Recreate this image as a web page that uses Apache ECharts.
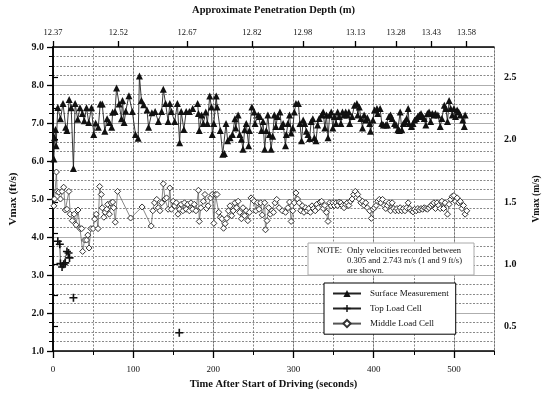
<!DOCTYPE html>
<html><head><meta charset="utf-8">
<script src="https://cdn.jsdelivr.net/npm/echarts@6/dist/echarts.min.js"></script>
<style>html,body{margin:0;padding:0;background:#fff}#c{width:550px;height:395px}</style>
</head><body><div id="c"></div>
<script>
// ---- data ----
const depthTimes  = [0, 81.5, 167.3, 248, 311.5, 377.5, 427.7, 471.9, 515.7];
const depthLabels = ['12.37','12.52','12.67','12.82','12.98','13.13','13.28','13.43','13.58'];
const msTickLabels = [0.5, 1.0, 1.5, 2.0, 2.5];
const msTicks = [0.5, 0.75, 1.0, 1.25, 1.5, 1.75, 2.0, 2.25, 2.5];
const seriesNames = ['Surface Measurement', 'Top Load Cell', 'Middle Load Cell'];

const surfacePoints = [
[1.1,6.05],[1.9,6.61],[3.1,6.83],[3.9,6.4],[6,7.41],[9.3,7.11],[12.5,7.51],[15.8,6.89],[17.4,6.8],[20.2,7.62],
[22.7,7.4],[25.5,5.8],[27.6,7.51],[30.8,7.1],[33.7,7.4],[36.6,7.25],[39,7.06],[41.8,7.4],[44.6,7.01],[48,7.4],
[50.8,6.7],[53.2,7.0],[56.5,6.89],[58.9,7.5],[61.4,7.5],[64.6,6.78],[67.5,7.11],[70.3,7.01],[73.2,6.89],[74.4,7.28],
[77.3,7.3],[79.3,7.92],[82.5,7.5],[85.4,7.11],[86.7,7.59],[88.7,7.01],[90.7,7.31],[94.7,7.72],[98.9,7.3],[102.9,6.7],
[106.2,6.6],[107.8,8.24],[110.3,7.59],[113.1,7.48],[117.2,7.34],[119.2,6.89],[123.3,7.27],[127.4,7.3],[131.4,7.04],[135.5,7.3],
[137.6,7.89],[140.4,7.51],[143.6,7.04],[145.7,7.51],[147.7,7.3],[151.8,7.04],[155.1,7.51],[157.9,6.48],[159.9,7.3],[163.2,6.83],
[166.1,7.3],[170.1,7.3],[174.2,7.38],
[180.4,7.51],[181.4,7.25],[182.4,6.8],[185.4,7.21],[187.5,6.99],[190.5,7.29],[192.5,6.99],[195.5,7.71],[197.6,7.42],[198.6,6.7],
[200.6,6.99],[203.6,7.71],[204.6,7.42],[208.7,6.8],[211.7,6.18],[213.7,6.2],[215.8,6.99],[217.8,6.53],[220.8,6.61],[223.8,6.7],
[226.9,7.11],[227.9,6.87],[230.9,7.21],[232.9,6.7],[235,6.57],[237,6.31],[239,6.82],[241,6.99],[244,6.4],[245,6.8],
[248,7.42],[251,7.29],[252,6.99],[256,7.21],[258,7.17],[260,6.8],[262,7.04],[264,6.31],[266,6.8],[268,7.21],
[270,6.7],[272,6.31],[274,6.65],[276,7.21],[278,6.91],[280,7.17],[283,7.29],[285,6.91],[287,6.99],[290,6.4],
[291,6.7],[293,6.99],[295,7.21],[297,6.74],[299,6.87],[301,7.29],[303,7.51],[306,7.51],[308,6.99],[310,6.53],
[312,7.08],[314,6.99],[316,6.78],[318,6.7],[320,6.59],[322,7.04],[324,7.11],[326,6.61],[328,6.53],[330,6.95],
[332,7.12],[335,7.21],[337,7.29],[339,6.87],[341,7.21],[343,6.61],[345,7.21],[347,7.29],[349,6.87],[351,7.17],
[353,6.99],[355,7.29],[357,7.17],[359,6.99],[361,7.29],[363,7.21],[365,7.29],[367,7.21],
[369,7.29],[370,6.99],[373,7.17],[376,7.47],[379,7.51],[380,7.21],[382,7.42],[384,7.12],[386,6.87],[388,7.21],
[390,7.08],[392,7.14],[395,6.99],[396,6.78],[399,7.08],[401,7.34],[404,7.38],[405,7.25],[408,7.38],[410,6.99],
[412,6.95],[415,6.95],[417,6.95],[419,7.17],[421,7.21],[423,7.12],[426,6.99],[428,6.95],[430,6.82],[432,6.8],
[433,7.29],[435,6.82],[437,6.99],[439,7.04],[441,7.12],[443,7.38],[444,6.99],[447,6.91],[449,6.99],[451,7.08],
[453,7.12],[455,7.17],[457,7.21],[459,7.25],[461,7.17],[463,7.12],[465,6.95],[467,7.25],[469,7.29],[471,7.04],
[473,7.25],[475,7.21],[477,7.25],[480,7.21],[483,6.91],[485,7.12],[488,7.47],[490,7.38],[492,7.04],[494,7.59],
[496,7.38],[498,7.21],[500,7.38],[502,7.17],[504,7.34],[506,7.29],[508,7.21],[511,7.08],[513,6.91],[514,7.21]
];

const topLoadPoints = [
[6,3.89],[8.5,3.81],[9.3,3.3],[11.3,3.21],[13.3,3.28],[15.3,3.32],[17.4,3.62],[19.4,3.58],[20.6,3.45],
[23,null],[25.5,2.4],[90,null],[157.5,1.48]
];

const middlePoints = [
[1.1,4.82],[1.9,5.0],[4.3,5.71],[5.1,5.2],[7.2,5.18],[9.3,5.0],[11.3,5.2],[13.3,5.31],[15.3,4.71],[17.4,4.73],
[19.8,5.2],[21.5,4.6],[24,4.43],[26.4,4.6],[28.8,4.32],[31.2,4.71],[33.7,4.22],[35.8,4.22],[37,3.62],[39.4,3.92],
[41.8,3.92],[43.4,4.05],[45,3.71],[47.2,4.22],[50,4.22],[52,4.47],[54,4.6],[56.2,4.22],[58.2,5.33],[60.2,5.12],
[61.4,4.77],[63.4,4.52],[65.1,4.65],[67.1,4.73],[68.3,4.86],[70.3,4.6],[72.3,4.9],[74.4,4.92],[75.7,4.77],[77.7,4.39],
[80.5,5.2],[96.8,4.5],[111.1,4.79],[122.5,4.29],[124.5,4.69],[126.6,4.9],[129.4,4.99],[131.4,4.77],[133.4,4.69],[135.5,4.9],
[137.6,5.4],[139.6,5.0],[141.6,5.03],[143.6,4.73],[145.7,5.29],[147.7,4.73],[149.8,4.94],[151.8,4.82],[153.8,4.9],[155.9,4.6],
[157.9,4.73],[159.9,4.86],[162,4.69],[164,4.9],[166.1,4.73],[168.1,4.86],[170.1,4.69],[172.1,4.9],[174.2,4.73],[176.2,4.86],
[178.3,4.69],
[181.4,5.23],[182.4,4.41],[184.4,4.77],[187.5,4.94],[189.5,5.12],[191.5,4.75],[193.5,4.82],[196.6,5.03],[198.6,5.12],[200.6,4.36],
[202.6,5.12],[204.6,5.12],[206.7,4.65],[208.7,4.52],[210.7,4.48],[212.7,4.23],[214.7,4.35],[216.8,4.49],[218.8,4.69],[220.8,4.82],
[222.8,4.56],[224.8,4.69],[226.9,4.9],[228.9,4.77],[230.9,4.94],[232.9,4.65],[235,4.48],[237,4.77],[239,4.56],[241,4.69],
[243,4.43],[245,4.65],[247,5.03],[249,4.99],[251,4.94],[253,4.69],[255,4.9],[257,4.73],[259,4.9],[261,4.58],
[264,4.9],[265,4.19],[267,4.43],[269,4.77],[271,4.6],[273,4.69],[275,4.65],[277,4.9],[279,4.99],[282,4.77],
[286,4.69],[290,4.65],[293,4.77],[295,4.92],[297,4.41],[299,4.69],[301,4.9],[303,5.16],[305,5.0],[307,4.9],
[309,4.69],[311,4.82],[313,4.65],[315,4.77],[317,4.69],[319,4.75],[321,4.65],[323,4.82],[325,4.75],[327,4.69],
[329,4.86],[331,4.77],[333,4.92],[335,4.94],[337,4.75],[339,4.83],[341,4.65],[343,4.41],[345,4.9],[347,4.82],
[349,4.9],[351,4.83],[353,4.9],[355,4.83],[357,4.92],[359,4.9],[361,4.83],[363,4.77],[365,4.86],[367,4.9],
[369,4.83],[371,4.94],[373,5.0],[375,5.12],[377,5.2],[380,5.12],[382,5.0],[384,4.9],[386,4.94],[388,4.83],
[390,4.9],[392,4.77],[395,4.69],[397,4.49],[399,4.73],[401,4.77],[403,4.83],[405,4.94],[407,4.99],[409,4.9],
[411,4.99],[413,4.83],[415,4.75],[417,4.83],[419,4.9],[421,4.69],[423,4.9],[425,4.75],[427,4.69],[429,4.75],
[431,4.69],[433,4.77],[435,4.69],[437,4.75],[439,4.69],[441,4.77],[443,4.9],[445,4.75],[447,4.69],[449,4.66],
[451,4.73],[453,4.69],[455,4.75],[457,4.71],[459,4.75],[461,4.73],[463,4.77],[465,4.75],[467,4.73],[469,4.77],
[471,4.82],[473,4.86],[475,4.9],[477,4.75],[479,4.9],[481,4.83],[483,4.75],[485,4.94],[487,4.75],[489,4.9],
[492,4.6],[494,4.86],[496,4.99],[498,5.07],[500,5.09],[502,4.94],[504,5.03],[506,4.9],[508,4.94],[510,4.75],
[512,4.83],[514,4.6],[516,4.69]
];

// ---- chart ----
const FT_PER_M = 3.2808;
const SERIF = '"Liberation Serif", "DejaVu Serif", serif';
const chart = echarts.init(document.getElementById('c'), null, {renderer: 'canvas'});
const dashed = {color: '#555', type: [2, 1.5], width: 0.7};
const plusPath = 'path://M4,0h2v4h4v2h-4v4h-2v-4h-4v-2h4z';

chart.setOption({
  animation: false,
  backgroundColor: '#fff',
  grid: {left: 49, right: 51, top: 44, bottom: 40, containLabel: false},
  xAxis: [
    {
      type: 'value', position: 'bottom', min: 0, max: 550, interval: 100,
      name: 'Time After Start of Driving (seconds)', nameLocation: 'middle', nameGap: 28,
      nameTextStyle: {fontFamily: SERIF, fontWeight: 'bold', fontSize: 10.5, color: '#111'},
      axisLine: {show: true, lineStyle: {color: '#000', width: 1.5}},
      axisTick: {show: true, inside: false, length: 7, lineStyle: {color: '#000', width: 1.3}},
      axisLabel: {fontFamily: SERIF, fontSize: 9, color: '#111', margin: 14, showMaxLabel: false},
      splitLine: {show: true, lineStyle: {color: '#aaa', width: 0.8}}
    },
    {
      type: 'value', position: 'top', min: 0, max: 550,
      name: 'Approximate Penetration Depth (m)', nameLocation: 'middle', nameGap: 31,
      nameTextStyle: {fontFamily: SERIF, fontWeight: 'bold', fontSize: 10.5, color: '#111'},
      axisLine: {show: true, lineStyle: {color: '#000', width: 1.5}},
      axisTick: {show: true, inside: false, length: 6, customValues: depthTimes, lineStyle: {color: '#000', width: 1.3}},
      axisLabel: {fontFamily: SERIF, fontSize: 8.5, color: '#111', margin: 10, customValues: depthTimes,
        formatter: function (v) {
          const i = depthTimes.findIndex(d => Math.abs(d - v) < 0.01);
          return i >= 0 ? depthLabels[i] : '';
        }},
      splitLine: {show: false}
    },
    {
      type: 'value', position: 'bottom', min: 0, max: 550, interval: 50,
      axisLine: {show: false},
      axisTick: {show: true, inside: false, length: 4, lineStyle: {color: '#000', width: 1}},
      axisLabel: {show: false},
      splitLine: {show: true, lineStyle: dashed}
    }
  ],
  yAxis: [
    {
      type: 'value', position: 'left', min: 1, max: 9, interval: 1,
      name: 'Vmax (ft/s)', nameLocation: 'middle', nameGap: 34, nameRotate: 90,
      nameTextStyle: {fontFamily: SERIF, fontWeight: 'bold', fontSize: 11, color: '#111'},
      axisLine: {show: true, lineStyle: {color: '#000', width: 1.5}},
      axisTick: {show: true, inside: false, length: 6, lineStyle: {color: '#000', width: 1.3}},
      minorTick: {show: true, splitNumber: 4, length: 4, lineStyle: {color: '#000', width: 1}},
      axisLabel: {fontFamily: SERIF, fontWeight: 'bold', fontSize: 10, color: '#111', margin: 9,
        formatter: v => v.toFixed(1)},
      splitLine: {show: true, lineStyle: {color: '#999', width: 0.8}},
      minorSplitLine: {show: true, lineStyle: dashed}
    },
    {
      type: 'value', position: 'right', min: 1 / FT_PER_M, max: 9 / FT_PER_M,
      name: 'Vmax (m/s)', nameLocation: 'middle', nameGap: 38, nameRotate: 90,
      nameTextStyle: {fontFamily: SERIF, fontWeight: 'bold', fontSize: 9.5, color: '#111'},
      axisLine: {show: true, lineStyle: {color: '#000', width: 1.5}},
      axisTick: {show: true, inside: false, length: 5, customValues: msTicks, lineStyle: {color: '#000', width: 1.2}},
      axisLabel: {fontFamily: SERIF, fontWeight: 'bold', fontSize: 10, color: '#111', margin: 10,
        customValues: msTickLabels, formatter: v => v.toFixed(1)},
      splitLine: {show: false}
    }
  ],
  legend: {
    orient: 'vertical', left: 324, top: 283,
    data: seriesNames,
    padding: [6, 7, 6, 8], itemGap: 6, itemWidth: 28, itemHeight: 9,
    borderColor: '#000', borderWidth: 1, backgroundColor: '#fff',
    textStyle: {fontFamily: SERIF, fontSize: 9, color: '#111', padding: [0, 0, 0, 4]}
  },
  graphic: [
    {type: 'rect', shape: {x: 308, y: 243, width: 166, height: 32}, style: {fill: '#fff', stroke: '#aaa', lineWidth: 1}, z: 100},
    {type: 'text', x: 317, y: 246, z: 101, style: {text: 'NOTE:', font: '8.5px "Liberation Serif"', fill: '#111'}},
    {type: 'text', x: 347, y: 246, z: 101, style: {text: 'Only velocities recorded between\n0.305 and 2.743 m/s (1 and 9 ft/s)\nare shown.', font: '8.5px "Liberation Serif"', fill: '#111', lineHeight: 10}}
  ],
  series: [
    {
      name: seriesNames[0], type: 'line', xAxisIndex: 0, yAxisIndex: 0,
      data: surfacePoints, symbol: 'triangle', symbolSize: 7, showAllSymbol: true,
      itemStyle: {color: '#111'}, lineStyle: {color: '#222', width: 0.9}, z: 4
    },
    {
      name: seriesNames[1], type: 'line', xAxisIndex: 0, yAxisIndex: 0,
      data: topLoadPoints, symbol: plusPath, symbolSize: 8, showAllSymbol: true, connectNulls: false,
      itemStyle: {color: '#111'}, lineStyle: {color: '#222', width: 0.8}, z: 5
    },
    {
      name: seriesNames[2], type: 'line', xAxisIndex: 0, yAxisIndex: 0,
      data: middlePoints, symbol: 'diamond', symbolSize: 6, showAllSymbol: true,
      itemStyle: {color: '#fff', borderColor: '#333', borderWidth: 1}, lineStyle: {color: '#555', width: 0.7}, z: 3
    }
  ]
});
</script>
</body></html>
